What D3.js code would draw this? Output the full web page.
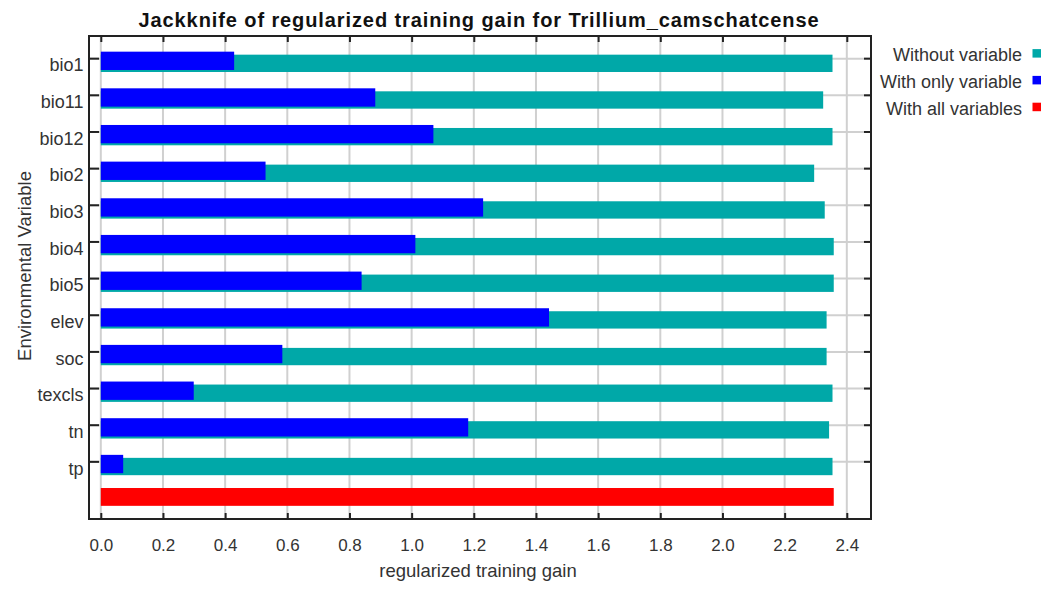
<!DOCTYPE html>
<html>
<head>
<meta charset="utf-8">
<script src="https://cdn.jsdelivr.net/npm/d3@7"></script>
<style>
  body { margin: 0; background: #fff; }
  svg { display: block; font-family: "Liberation Sans", Arial, sans-serif; }
</style>
</head>
<body>
<svg id="root" width="1057" height="596"></svg>
<script>
// jackknife values
var variables = ["bio1", "bio11", "bio12", "bio2", "bio3", "bio4", "bio5", "elev", "soc", "texcls", "tn", "tp"];
var withoutGain = [2.354, 2.324, 2.354, 2.295, 2.329, 2.358, 2.358, 2.335, 2.335, 2.354, 2.343, 2.354];
var onlyGain = [0.429, 0.883, 1.070, 0.530, 1.230, 1.012, 0.839, 1.442, 0.584, 0.299, 1.182, 0.072];
var allGain = 2.358;
var xTicks = [0, 0.2, 0.4, 0.6, 0.8, 1.0, 1.2, 1.4, 1.6, 1.8, 2.0, 2.2, 2.4];
var legendNames = ["Without variable", "With only variable", "With all variables"];
var legendColors = ["#00a8a8", "#0000ff", "#ff0000"];

var svg = d3.select("#root");
// plot frame (window.top is taken, so prefixed names)
var pLeft = 89, pRight = 871, pTop = 36, pBottom = 519;

var x = d3.scaleLinear().domain([0, 2.4]).range([100.8, 846.8]);
// last slot is the "all variables" bar
var y = d3.scaleBand().domain(variables.concat(["__all"]))
    .range([42.5, 519]).paddingInner(0.5).paddingOuter(0.25);
var bw = y.bandwidth();

var rows = variables.map(function (v, i) {
    return {name: v, without: withoutGain[i], only: onlyGain[i]};
});

// grid
var grid = svg.append("g").attr("id", "grid");
grid.selectAll("line.vg").data(xTicks).enter()
    .append("line").attr("class", "vg")
    .attr("x1", function (d) { return x(d); })
    .attr("x2", function (d) { return x(d); })
    .attr("y1", pTop).attr("y2", pBottom)
    .attr("stroke", "#d0d0d0").attr("stroke-width", 2);
grid.selectAll("line.hg").data(variables).enter()
    .append("line").attr("class", "hg")
    .attr("x1", pLeft).attr("x2", pRight)
    .attr("y1", function (d) { return y(d) + 7; })
    .attr("y2", function (d) { return y(d) + 7; })
    .attr("stroke", "#d0d0d0").attr("stroke-width", 2);

// bars
var bars = svg.append("g").attr("id", "bars");
bars.selectAll("rect.without").data(rows).enter()
    .append("rect").attr("class", "without")
    .attr("x", x(0))
    .attr("y", function (d) { return y(d.name) + 3; })
    .attr("width", function (d) { return x(d.without) - x(0); })
    .attr("height", bw - 1)
    .attr("fill", legendColors[0]);
bars.selectAll("rect.only").data(rows).enter()
    .append("rect").attr("class", "only")
    .attr("x", x(0))
    .attr("y", function (d) { return y(d.name); })
    .attr("width", function (d) { return x(d.only) - x(0); })
    .attr("height", bw)
    .attr("fill", legendColors[1]);
bars.append("rect")
    .attr("x", x(0))
    .attr("y", y("__all") - 3.5)
    .attr("width", x(allGain) - x(0))
    .attr("height", bw - 0.5)
    .attr("fill", legendColors[2]);

// frame + ticks
var axes = svg.append("g").attr("id", "axes");
axes.append("rect")
    .attr("x", pLeft).attr("y", pTop)
    .attr("width", pRight - pLeft).attr("height", pBottom - pTop)
    .attr("fill", "none").attr("stroke", "#222").attr("stroke-width", 2);

var xb = axes.append("g").attr("transform", "translate(0," + pBottom + ")")
    .call(d3.axisBottom(x).tickValues(xTicks).tickFormat(d3.format(".1f"))
        .tickSize(-6).tickPadding(19.6));
var xt = axes.append("g").attr("transform", "translate(0," + pTop + ")")
    .call(d3.axisTop(x).tickValues(xTicks).tickFormat("").tickSize(-6));
[xb, xt].forEach(function (g) {
    g.select(".domain").remove();
    g.selectAll(".tick line").attr("stroke", "#222").attr("stroke-width", 2);
});
xb.selectAll(".tick text")
    .attr("font-size", 17).attr("fill", "#333")
    .attr("font-family", "Liberation Sans, Arial, sans-serif");

axes.selectAll("line.yl").data(variables).enter()
    .append("line").attr("class", "yl")
    .attr("x1", pLeft).attr("x2", pLeft + 10)
    .attr("y1", function (d) { return y(d) + 7; })
    .attr("y2", function (d) { return y(d) + 7; })
    .attr("stroke", "#222").attr("stroke-width", 2);
axes.selectAll("line.yr").data(variables).enter()
    .append("line").attr("class", "yr")
    .attr("x1", pRight - 7).attr("x2", pRight)
    .attr("y1", function (d) { return y(d) + 7; })
    .attr("y2", function (d) { return y(d) + 7; })
    .attr("stroke", "#222").attr("stroke-width", 2);
axes.selectAll("text.yl").data(variables).enter()
    .append("text").attr("class", "yl")
    .attr("x", 83.5)
    .attr("y", function (d) { return y(d) + 19.8; })
    .attr("text-anchor", "end")
    .attr("font-size", 18).attr("fill", "#333")
    .text(function (d) { return d; });

// titles
svg.append("text")
    .attr("x", 479).attr("y", 26.7)
    .attr("text-anchor", "middle")
    .attr("font-size", 20).attr("font-weight", "bold").attr("fill", "#111")
    .attr("letter-spacing", 0.9)
    .text("Jackknife of regularized training gain for Trillium_camschatcense");
svg.append("text")
    .attr("x", 478).attr("y", 577)
    .attr("text-anchor", "middle")
    .attr("font-size", 18.5).attr("fill", "#333")
    .text("regularized training gain");
svg.append("text")
    .attr("transform", "translate(31,266) rotate(-90)")
    .attr("text-anchor", "middle")
    .attr("font-size", 18.5).attr("fill", "#333")
    .text("Environmental Variable");

// legend
var lg = svg.append("g").attr("id", "legend");
var items = lg.selectAll("g").data(legendNames).enter()
    .append("g")
    .attr("transform", function (d, i) { return "translate(0," + (53.3 + i * 26.8) + ")"; });
items.append("rect")
    .attr("x", 1032.5).attr("y", -4.2)
    .attr("width", 8.5).attr("height", 8.5)
    .attr("fill", function (d, i) { return legendColors[i]; });
items.append("text")
    .attr("x", 1022).attr("y", 8)
    .attr("text-anchor", "end")
    .attr("font-size", 18).attr("fill", "#333")
    .text(function (d) { return d; });
</script>
</body>
</html>
